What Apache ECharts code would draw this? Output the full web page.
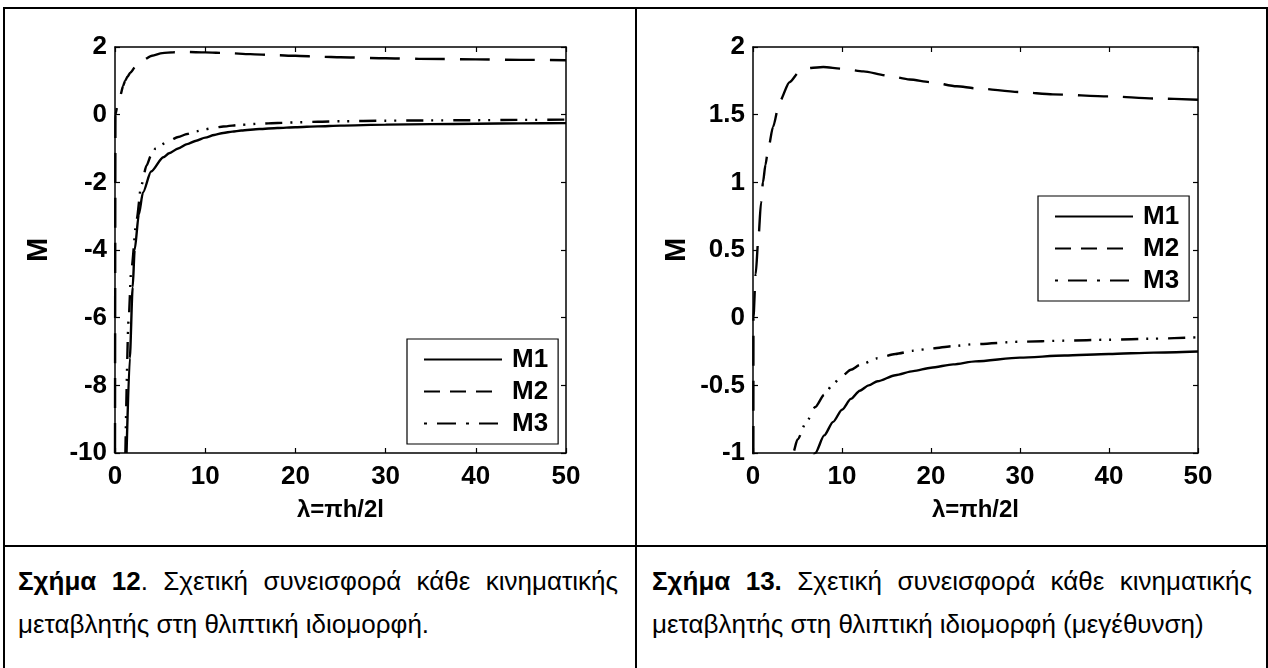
<!DOCTYPE html>
<html>
<head>
<meta charset="utf-8">
<script src="https://cdn.jsdelivr.net/npm/echarts@6/dist/echarts.min.js"></script>
<style>
html,body{margin:0;padding:0;background:#fff;}
#page{position:relative;width:1268px;height:668px;overflow:hidden;background:#fff;}
.ln{position:absolute;background:#000;}
.cap{position:absolute;top:560px;width:600px;font-family:"Liberation Sans",Arial,sans-serif;font-size:26px;line-height:43px;color:#000;text-align:justify;}
#chart{position:absolute;left:0;top:0;width:1268px;height:545px;}
</style>
</head>
<body>
<div id="page">
  <div class="ln" style="left:3px;top:7px;width:1265px;height:2px"></div>
  <div class="ln" style="left:3px;top:7px;width:2px;height:661px"></div>
  <div class="ln" style="left:635px;top:7px;width:2px;height:661px"></div>
  <div class="ln" style="left:1266px;top:7px;width:2px;height:661px"></div>
  <div class="ln" style="left:3px;top:545px;width:1265px;height:2px"></div>
  <div class="cap" style="left:18px"><b>Σχήμα 12</b>. Σχετική συνεισφορά κάθε κινηματικής μεταβλητής στη θλιπτική ιδιομορφή.</div>
  <div class="cap" style="left:652px"><b>Σχήμα 13.</b> Σχετική συνεισφορά κάθε κινηματικής μεταβλητής στη θλιπτική ιδιομορφή (μεγέθυνση)</div>
  <div id="chart"></div>
</div>
<script>
// ---- data ----
const xTicks = [0, 10, 20, 30, 40, 50];
const yTicksFull = [-10, -8, -6, -4, -2, 0, 2];
const yTicksZoom = [-1, -0.5, 0, 0.5, 1, 1.5, 2];
const seriesNames = ['M1', 'M2', 'M3'];
const xAxisTitle = 'λ=πh/2l';
const yAxisTitle = 'M';

const m1X = [1.28, 1.64, 1.96, 2.18, 2.64, 3.1, 4.0, 5.35, 6.0, 7.0, 8.0, 9.0, 10, 11, 12, 13, 14, 16, 18, 20, 22.5, 25, 30, 35, 40, 45, 50];
const m1Y = [-10, -7.2, -5.1, -4.0, -2.95, -2.3, -1.68, -1.26, -1.14, -1.0, -0.87, -0.77, -0.68, -0.6, -0.54, -0.5, -0.47, -0.425, -0.395, -0.37, -0.345, -0.323, -0.295, -0.28, -0.268, -0.258, -0.25];

const m2X = [0, 0.05, 0.3, 0.6, 0.9, 1.12, 1.4, 1.69, 2.25, 3.0, 4.1, 5.25, 6.5, 7.9, 10, 12.4, 15, 17.6, 20, 22.9, 25, 30, 33.7, 40, 45, 50];
const m2Y = [-10, 0, 0.32, 0.58, 0.85, 1.0, 1.13, 1.24, 1.41, 1.6, 1.74, 1.82, 1.845, 1.852, 1.84, 1.82, 1.79, 1.76, 1.74, 1.71, 1.695, 1.667, 1.65, 1.635, 1.62, 1.61];

const m3X = [1.15, 1.5, 1.8, 2.4, 2.9, 3.5, 4.0, 4.5, 5, 6, 7, 8, 9, 10, 11, 12, 14, 16, 18, 20, 22.5, 25, 30, 35, 40, 45, 50];
const m3Y = [-10, -6.1, -4.6, -3.1, -2.1, -1.5, -1.2, -1.0, -0.9, -0.77, -0.66, -0.57, -0.49, -0.43, -0.385, -0.35, -0.3, -0.268, -0.245, -0.228, -0.21, -0.195, -0.178, -0.17, -0.163, -0.155, -0.145];

// ---- styling / layout ----
const FONT = '"Liberation Sans", Arial, sans-serif';
const pairs = (xs, ys) => xs.map((x, i) => [x, ys[i]]);
const seriesData = [pairs(m1X, m1Y), pairs(m2X, m2Y), pairs(m3X, m3Y)];
const plotDash = ['solid', [30, 15], [17, 8, 2, 8, 2, 10]];
const legendDash = ['solid', [16, 10], [3, 10, 19, 10]];

const grids = [
  { left: 115, top: 47, width: 451, height: 406 },
  { left: 753, top: 47, width: 445, height: 406 }
];
const yTickSets = [yTicksFull, yTicksZoom];
const legendPos = [[407, 339], [1038, 196]];

const lineCol = { color: '#000', width: 1.5 };
const tickStyle = { inside: true, length: 5, lineStyle: { color: '#000', width: 1.2 } };
const labelStyle = { color: '#000', fontFamily: FONT, fontWeight: 'bold', fontSize: 26 };

const xAxes = [], yAxes = [], series = [], legends = [];
grids.forEach((g, gi) => {
  const xt = xTicks, yt = yTickSets[gi];
  const xBase = { type: 'value', gridIndex: gi, min: xt[0], max: xt[xt.length - 1], interval: xt[1] - xt[0],
    axisLine: { show: true, onZero: false, lineStyle: lineCol }, axisTick: tickStyle, splitLine: { show: false } };
  const yBase = { type: 'value', gridIndex: gi, min: yt[0], max: yt[yt.length - 1], interval: yt[1] - yt[0],
    axisLine: { show: true, onZero: false, lineStyle: lineCol }, axisTick: tickStyle, splitLine: { show: false } };
  xAxes.push(Object.assign({}, xBase, { position: 'bottom',
    axisLabel: Object.assign({ margin: 11 }, labelStyle),
    name: xAxisTitle, nameLocation: 'middle', nameGap: 45,
    nameTextStyle: { color: '#000', fontFamily: FONT, fontWeight: 'bold', fontSize: 24 } }));
  xAxes.push(Object.assign({}, xBase, { position: 'top', axisLabel: { show: false } }));
  yAxes.push(Object.assign({}, yBase, { position: 'left',
    axisLabel: Object.assign({ margin: 8 }, labelStyle),
    name: yAxisTitle, nameLocation: 'middle', nameGap: 62,
    nameTextStyle: { color: '#000', fontFamily: FONT, fontWeight: 'bold', fontSize: 29 } }));
  yAxes.push(Object.assign({}, yBase, { position: 'right', axisLabel: { show: false } }));
  seriesNames.forEach((nm, si) => {
    series.push({
      name: nm, type: 'line', xAxisIndex: gi * 2, yAxisIndex: gi * 2,
      data: seriesData[si], symbol: 'none', showSymbol: false, silent: true,
      smooth: 0.25, smoothMonotone: 'x', clip: true,
      lineStyle: { color: '#000', width: 2.4, type: plotDash[si] }
    });
  });
  legends.push({
    orient: 'vertical', left: legendPos[gi][0], top: legendPos[gi][1],
    padding: [7, 10, 7, 16], itemWidth: 78, itemHeight: 14, itemGap: 5,
    borderColor: '#000', borderWidth: 1.2, backgroundColor: '#fff', borderRadius: 0,
    selectedMode: false,
    itemStyle: { color: 'rgba(0,0,0,0)', borderWidth: 0 },
    textStyle: { color: '#000', fontFamily: FONT, fontWeight: 'bold', fontSize: 26, lineHeight: 27, padding: [0, 0, 0, 5] },
    data: seriesNames.map((nm, si) => ({ name: nm, lineStyle: { type: legendDash[si] } }))
  });
});

const chart = echarts.init(document.getElementById('chart'), null, { renderer: 'canvas' });
chart.setOption({
  animation: false,
  backgroundColor: 'transparent',
  grid: grids,
  xAxis: xAxes,
  yAxis: yAxes,
  legend: legends,
  series: series
});
</script>
</body>
</html>
